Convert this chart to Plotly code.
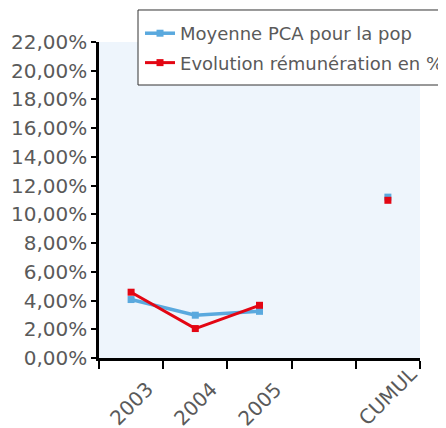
import plotly.graph_objects as go

categories = ["2003", "2004", "2005", " ", "CUMUL"]
moyenne_pca = [0.0407, 0.0298, 0.0325, None, 0.1120]
evolution_remu = [0.0458, 0.0205, 0.0367, None, 0.1098]
series_names = ["Moyenne PCA pour la pop", "Evolution rémunération en %"]
y_ticks = [i / 100 for i in range(0, 23, 2)]

FONT = "DejaVu Sans"
GREY = "#5a5a5a"

fig = go.Figure()
fig.add_trace(go.Scatter(
    x=categories, y=moyenne_pca, name=series_names[0], mode="lines+markers",
    line=dict(color="#5AA9DE", width=3.5), marker=dict(symbol="square", size=7, color="#5AA9DE"),
    connectgaps=False, legendgroup="a",
))
fig.add_trace(go.Scatter(
    x=categories, y=evolution_remu, name=series_names[1], mode="lines+markers",
    line=dict(color="#E30613", width=3), marker=dict(symbol="square", size=7, color="#E30613"),
    connectgaps=False, legendgroup="b",
))

# legend frame (white box with dark border, running off the right edge)
fig.add_shape(
    type="rect", xref="paper", yref="paper",
    x0=0.1215, x1=1.093, y0=0.8639, y1=1.1013,
    fillcolor="white", line=dict(color="#333333", width=1), layer="above",
)

# x category labels, rotated and centred on each category
for i, c in enumerate(categories):
    if c.strip():
        fig.add_annotation(
            x=i, y=0, xref="x", yref="paper", text=c, showarrow=False,
            textangle=-45, xanchor="center", yanchor="bottom", yshift=-75,
            font=dict(family=FONT, size=20, color=GREY),
        )

fig.update_layout(
    width=446, height=428,
    margin=dict(l=91, r=34, t=34, b=78, autoexpand=False),
    paper_bgcolor="white",
    plot_bgcolor="#EEF5FC",
    separators=", ",
    font=dict(family=FONT, size=20, color=GREY),
    showlegend=True,
    legend=dict(
        xref="container", yref="container",
        x=0.296, y=0.9836, xanchor="left", yanchor="top",
        bgcolor="rgba(0,0,0,0)", borderwidth=0,
        font=dict(family=FONT, size=18, color=GREY),
        tracegroupgap=3, itemwidth=30,
    ),
)
fig.update_xaxes(
    type="category", categoryorder="array", categoryarray=categories,
    range=[-0.5, 4.5], showticklabels=False,
    tickson="boundaries", ticks="outside", ticklen=8, tickwidth=2, tickcolor="black",
    showline=True, linecolor="black", linewidth=2.5, showgrid=False,
)
fig.update_yaxes(
    range=[0, 0.22], tickvals=y_ticks, tickformat=".2%",
    ticks="outside", ticklen=5, tickwidth=2, tickcolor="black",
    showline=True, linecolor="black", linewidth=2.5, showgrid=False, zeroline=False,
    tickfont=dict(family=FONT, size=20, color=GREY),
)

fig.write_html("out.html")
